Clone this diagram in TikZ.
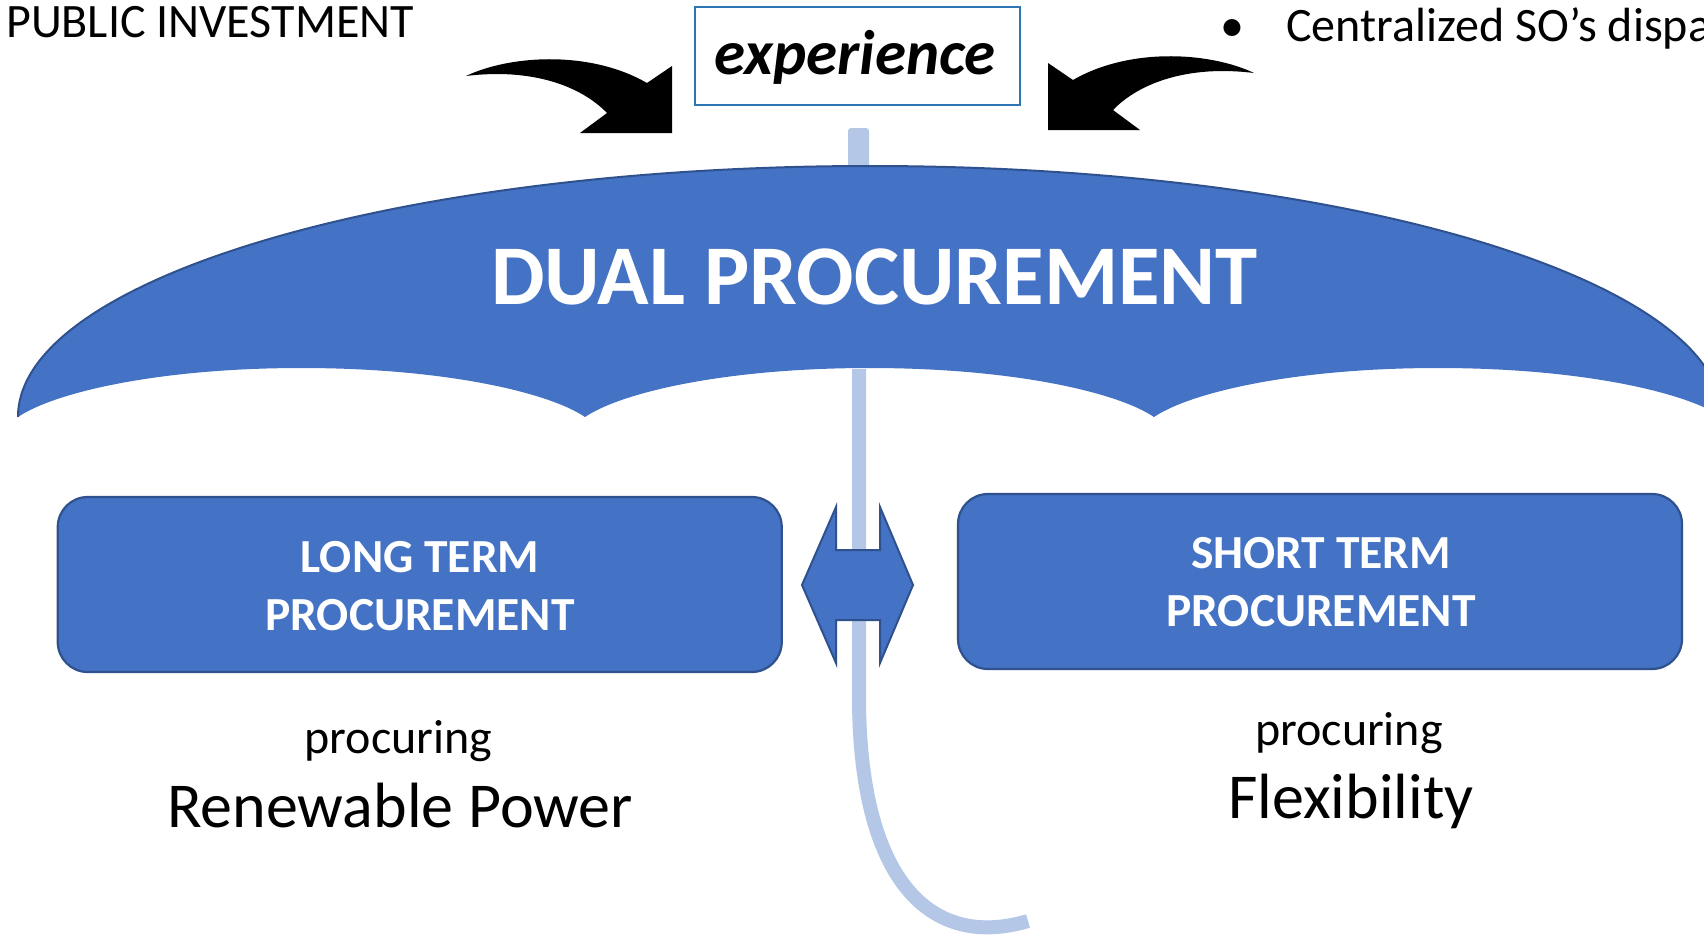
\documentclass[tikz,border=0pt]{standalone}
\usepackage{fontspec}
\setmainfont{Carlito}
\definecolor{mainblue}{HTML}{4472C4}
\definecolor{edgeblue}{HTML}{2F528F}
\definecolor{handleblue}{HTML}{B4C7E7}
\definecolor{expblue}{HTML}{2E75B6}
\begin{document}
\begin{tikzpicture}[x=1pt,y=1pt,
  bluebox/.style={draw=edgeblue, fill=mainblue, line width=2.2pt, rounded corners=30pt, inner sep=0pt, minimum width=724pt, minimum height=175pt},
  txt/.style={inner sep=0pt, anchor=base},
  smalltxt/.style={txt, font=\fontsize{48}{58}\selectfont},
  boxtxt/.style={txt, text=white, font=\bfseries\fontsize{47.5}{57}\selectfont},
  bigtxt/.style={txt, font=\fontsize{64}{77}\selectfont},
  blackarrow/.style={fill=black},
]
\useasboundingbox (0,0) rectangle (1704,-940);
\fill[white] (0,0) rectangle (1704,-940);

% stem above canopy
\fill[handleblue, rounded corners=3pt] (848,-128) rectangle (869,-172);

% canopy
\fill[mainblue] (18,-417) arc[start angle=180, end angle=0, x radius=852, y radius=251]
  .. controls (1685,-392) and (1580,-368) .. (1438,-368)
  .. controls (1296,-368) and (1191,-392) .. (1154,-417)
  .. controls (1117,-392) and (1012,-368) .. (869.5,-368)
  .. controls (727,-368) and (622,-392) .. (585,-417)
  .. controls (548,-392) and (443,-368) .. (301.5,-368)
  .. controls (160,-368) and (55,-392) .. (18,-417) -- cycle;
\draw[edgeblue, line width=2pt] (18,-417) arc[start angle=180, end angle=0, x radius=852, y radius=251];
\node[txt, text=white, font=\bfseries\fontsize{85}{102}\selectfont] (dual) at (874.5,-304) {DUAL PROCUREMENT};

% handle
\draw[handleblue, line width=14pt] (859,-369) -- (859,-700) .. controls (860,-880) and (930,-950) .. (1028,-921);

% double arrow
\filldraw[fill=mainblue, draw=edgeblue, line width=2pt] (802,-585) -- (836,-507) -- (836,-550) -- (880,-550) -- (880,-507) -- (913,-585) -- (880,-663) -- (880,-620) -- (836,-620) -- (836,-663) -- cycle;

% boxes
\node[bluebox] (lt) at (419.75,-584.5) {};
\node[boxtxt] (lt1) at (420,-572) {LONG TERM};
\node[boxtxt] (lt2) at (420,-630) {PROCUREMENT};
\node[bluebox] (st) at (1320,-581.5) {};
\node[boxtxt] (st1) at (1321,-568) {SHORT TERM};
\node[boxtxt] (st2) at (1321,-626) {PROCUREMENT};

% lower texts
\node[smalltxt] (p1) at (398.5,-753) {procuring};
\node[bigtxt] (rp) at (400,-827) {Renewable Power};
\node[smalltxt] (p2) at (1349,-745) {procuring};
\node[bigtxt] (fx) at (1351,-818) {Flexibility};

% top texts
\node[smalltxt, anchor=base west] (pub) at (6,-37.5) {PUBLIC INVESTMENT};
\node[smalltxt] (bul) at (1232,-41.7) {•};
\node[smalltxt, anchor=base west] (cen) at (1286,-41.7) {Centralized SO’s dispa};

% experience
\node[draw=expblue, line width=2pt, minimum width=325pt, minimum height=97.5pt, inner sep=0pt] (expbox) at (857.25,-56.2) {};
\node[txt, font=\bfseries\itshape\fontsize{63}{75}\selectfont] (exptxt) at (855.4,-74.5) {experience};

% black curved arrows
\fill[blackarrow] (466,-76) .. controls (510,-55) and (590,-50) .. (647,-83) -- (672,-66) -- (672,-133) -- (580,-133) -- (607,-113) .. controls (580,-85) and (530,-68) .. (466,-76) -- cycle;
\begin{scope}[xshift=1720pt, xscale=-1, yshift=3pt]
\fill[blackarrow] (466,-76) .. controls (510,-55) and (590,-50) .. (647,-83) -- (672,-66) -- (672,-133) -- (580,-133) -- (607,-113) .. controls (580,-85) and (530,-68) .. (466,-76) -- cycle;
\end{scope}
\end{tikzpicture}
\end{document}
